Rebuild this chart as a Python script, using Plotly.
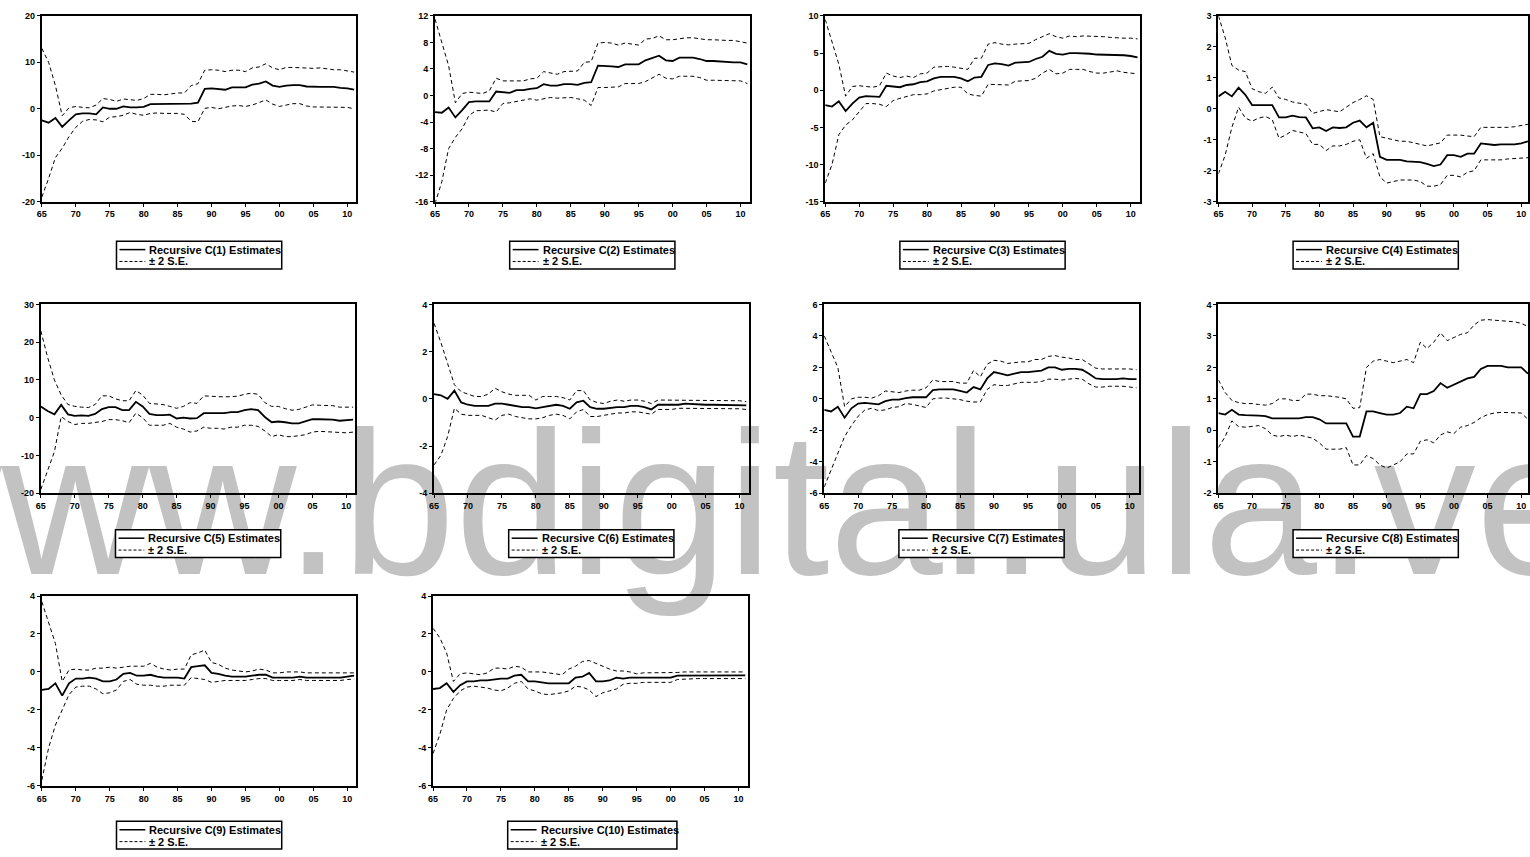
import plotly.graph_objects as go

W, H = 1530, 857

YEARS = list(range(1965, 2012))

C1_EST = [-2.5, -3.0, -2.0, -3.9, -2.5, -1.2, -1.0, -1.0, -1.2, 0.3,
          0.0, 0.0, 0.5, 0.3, 0.3, 0.4, 1.0, 1.0, 1.0, 1.1,
          1.1, 1.1, 1.1, 1.3, 4.3, 4.4, 4.3, 4.1, 4.6, 4.6,
          4.6, 5.2, 5.4, 5.9, 5.0, 4.7, 5.0, 5.1, 5.1, 4.8,
          4.7, 4.7, 4.7, 4.7, 4.5, 4.4, 4.1]
C1_UP = [13.0, 10.0, 5.0, -1.5, 0.2, 0.5, 0.3, 0.2, 0.8, 2.2,
         2.0, 1.6, 2.1, 2.0, 1.8, 2.2, 3.1, 3.1, 3.0, 3.2,
         3.4, 3.4, 5.0, 5.4, 8.3, 8.4, 8.3, 8.0, 8.3, 8.3,
         8.0, 8.8, 9.0, 9.7, 8.8, 8.4, 8.9, 8.9, 8.8, 8.7,
         8.7, 8.8, 8.6, 8.4, 8.4, 8.2, 7.9]
C1_LO = [-19.0, -15.0, -10.5, -8.5, -6.0, -4.0, -2.7, -2.3, -2.4, -2.8,
         -1.8, -1.7, -1.4, -0.8, -1.2, -1.4, -1.0, -0.9, -1.0, -1.0,
         -1.0, -1.2, -2.7, -2.8, 0.1, 0.3, 0.0, 0.3, 0.6, 0.7,
         0.5, 0.8, 1.4, 1.9, 1.0, 0.5, 0.8, 1.1, 1.1, 0.6,
         0.4, 0.4, 0.4, 0.4, 0.4, 0.3, 0.0]

C2_EST = [-2.5, -2.6, -1.8, -3.3, -2.2, -1.0, -0.9, -0.9, -0.9, 0.6,
          0.5, 0.4, 0.8, 0.8, 1.0, 1.1, 1.7, 1.5, 1.5, 1.7,
          1.7, 1.6, 1.9, 2.0, 4.5, 4.5, 4.4, 4.3, 4.7, 4.7,
          4.7, 5.3, 5.6, 6.0, 5.3, 5.2, 5.7, 5.7, 5.7, 5.5,
          5.2, 5.2, 5.1, 5.1, 5.0, 5.0, 4.7]
C2_UP = [11.5, 8.0, 4.5, -1.1, 0.3, 0.5, 0.4, 0.3, 0.7, 2.6,
         2.2, 2.2, 2.3, 2.2, 2.5, 2.6, 3.6, 3.4, 3.2, 3.6,
         3.6, 3.7, 5.0, 5.1, 7.9, 8.0, 7.9, 7.6, 7.9, 7.8,
         7.6, 8.5, 8.6, 9.0, 8.4, 8.4, 8.6, 8.7, 8.7, 8.5,
         8.4, 8.4, 8.3, 8.3, 8.3, 8.1, 7.9]
C2_LO = [-16.3, -13.0, -8.0, -6.3, -5.0, -3.0, -2.3, -2.2, -2.2, -2.5,
         -1.2, -1.1, -0.9, -0.6, -0.5, -0.7, -0.5, -0.3, -0.4, -0.4,
         -0.3, -0.5, -0.7, -1.5, 1.2, 1.2, 1.2, 1.3, 1.8, 1.8,
         1.8, 2.1, 2.7, 3.2, 2.6, 2.5, 2.9, 2.9, 2.9, 2.7,
         2.3, 2.3, 2.3, 2.3, 2.3, 2.2, 1.8]

C3_EST = [-2.0, -2.2, -1.5, -2.8, -1.8, -1.0, -0.8, -0.8, -0.9, 0.6,
          0.5, 0.4, 0.7, 0.8, 1.1, 1.2, 1.6, 1.8, 1.8, 1.8,
          1.6, 1.2, 1.7, 1.8, 3.4, 3.6, 3.5, 3.3, 3.7, 3.8,
          3.8, 4.2, 4.5, 5.3, 4.9, 4.8, 5.0, 5.0, 5.0, 4.9,
          4.8, 4.8, 4.8, 4.7, 4.7, 4.6, 4.4]
C3_UP = [9.5, 6.5, 3.5, -0.8, 0.5, 0.6, 0.5, 0.4, 0.6, 2.3,
         1.9, 1.7, 1.9, 1.7, 2.2, 2.3, 3.1, 3.2, 3.2, 3.1,
         2.9, 2.8, 4.3, 4.3, 6.2, 6.4, 6.2, 6.1, 6.2, 6.3,
         6.3, 6.8, 7.2, 7.6, 7.2, 7.0, 7.3, 7.2, 7.3, 7.3,
         7.2, 7.2, 7.1, 7.0, 7.0, 7.0, 6.9]
C3_LO = [-12.5, -10.0, -6.0, -4.7, -4.0, -2.9, -1.8, -1.8, -1.9, -2.2,
         -1.4, -1.1, -0.8, -0.6, -0.6, -0.5, -0.1, 0.1, 0.2, 0.4,
         0.4, -0.5, -0.7, -0.8, 0.8, 0.8, 0.8, 0.7, 1.2, 1.3,
         1.3, 1.6, 2.3, 2.8, 2.2, 2.3, 2.8, 2.8, 2.8, 2.5,
         2.3, 2.3, 2.5, 2.6, 2.4, 2.3, 2.2]

C4_EST = [0.4, 0.55, 0.4, 0.68, 0.45, 0.12, 0.12, 0.12, 0.12, -0.28,
          -0.28, -0.22, -0.27, -0.28, -0.63, -0.6, -0.72, -0.6, -0.62, -0.6,
          -0.45, -0.38, -0.6, -0.45, -1.55, -1.65, -1.65, -1.65, -1.7, -1.7,
          -1.72, -1.78, -1.85, -1.8, -1.5, -1.5, -1.55, -1.45, -1.45, -1.12,
          -1.15, -1.17, -1.15, -1.15, -1.15, -1.12, -1.05]
C4_UP = [3.0, 2.3, 1.4, 1.25, 1.2, 0.65, 0.55, 0.5, 0.7, 0.35,
         0.3, 0.22, 0.18, 0.15, -0.15, -0.1, -0.03, -0.06, -0.1, 0.05,
         0.2, 0.3, 0.42, 0.3, -0.9, -0.95, -1.0, -1.05, -1.05, -1.1,
         -1.15, -1.2, -1.15, -1.1, -0.85, -0.85, -0.85, -0.88, -0.9, -0.6,
         -0.6, -0.62, -0.6, -0.6, -0.58, -0.55, -0.5]
C4_LO = [-2.1, -1.5, -0.6, 0.05, -0.3, -0.4, -0.3, -0.25, -0.35, -0.95,
         -0.85, -0.7, -0.75, -0.8, -1.15, -1.15, -1.35, -1.2, -1.2, -1.15,
         -1.05, -1.0, -1.6, -1.45, -2.2, -2.4, -2.35, -2.3, -2.3, -2.3,
         -2.35, -2.5, -2.5, -2.45, -2.15, -2.15, -2.2, -2.05, -2.0, -1.65,
         -1.65, -1.65, -1.65, -1.62, -1.6, -1.6, -1.58]

C5_EST = [3.0, 1.8, 0.9, 3.4, 0.9, 0.5, 0.6, 0.5, 1.0, 2.3,
          2.8, 2.8, 2.0, 2.0, 4.2, 3.0, 1.0, 0.7, 0.7, 0.8,
          -0.2, 0.0, -0.2, -0.1, 1.2, 1.2, 1.3, 1.2, 1.5, 1.5,
          2.0, 2.3, 2.0, 0.2, -1.2, -1.0, -1.2, -1.5, -1.5, -1.0,
          -0.4, -0.4, -0.4, -0.5, -0.8, -0.6, -0.5]
C5_UP = [23.0, 16.0, 10.0, 6.0, 3.5, 3.0, 2.8, 2.7, 3.5, 5.8,
         5.8, 5.0, 4.5, 4.5, 7.2, 6.0, 3.8, 3.6, 3.5, 3.0,
         2.5, 3.0, 4.0, 3.8, 5.8, 5.7, 5.6, 5.5, 5.6, 5.7,
         6.2, 6.5, 6.2, 4.0, 3.0, 3.0, 2.4, 2.0, 2.2, 2.8,
         3.4, 3.3, 3.3, 3.2, 2.8, 2.8, 2.8]
C5_LO = [-19.0, -14.0, -9.0, 0.3, -1.0, -1.8, -1.5, -1.5, -1.3, -1.0,
         -0.5, -0.5, -0.8, -1.3, 1.2, 0.0, -2.0, -2.0, -2.0, -1.5,
         -2.5, -3.0, -3.8, -3.5, -2.5, -2.8, -2.8, -3.0, -2.5, -2.5,
         -2.0, -2.0, -2.3, -3.5, -5.0, -4.5, -5.0, -5.0, -4.8, -4.5,
         -3.8, -3.6, -3.7, -3.8, -3.8, -4.0, -3.8]

C6_EST = [0.2, 0.15, 0.0, 0.35, -0.15, -0.25, -0.3, -0.3, -0.3, -0.2,
          -0.2, -0.25, -0.3, -0.35, -0.35, -0.4, -0.35, -0.3, -0.25, -0.3,
          -0.42, -0.15, -0.08, -0.35, -0.42, -0.42, -0.38, -0.35, -0.35, -0.3,
          -0.3, -0.35, -0.45, -0.25, -0.25, -0.25, -0.25, -0.2, -0.22, -0.25,
          -0.25, -0.25, -0.25, -0.25, -0.25, -0.25, -0.28]
C6_UP = [3.2, 2.4, 1.5, 0.6, 0.3, 0.2, 0.1, 0.1, 0.2, 0.45,
         0.3, 0.2, 0.15, 0.15, 0.15, -0.05, 0.1, 0.1, 0.1, 0.05,
         -0.05, 0.35, 0.35, -0.05, -0.15, -0.2, -0.1, -0.05, -0.1, -0.05,
         -0.05, -0.1, -0.2, -0.05, -0.05, -0.05, -0.05, -0.05, -0.05, -0.05,
         -0.05, -0.05, -0.05, -0.05, -0.05, -0.08, -0.12]
C6_LO = [-2.8, -2.4, -1.6, -0.4, -0.65, -0.7, -0.7, -0.7, -0.8, -0.9,
         -0.7, -0.65, -0.75, -0.8, -0.85, -0.85, -0.8, -0.7, -0.65, -0.7,
         -0.85, -0.55, -0.45, -0.75, -0.75, -0.7, -0.65, -0.6, -0.6, -0.55,
         -0.55, -0.6, -0.65, -0.45, -0.45, -0.45, -0.4, -0.4, -0.4, -0.4,
         -0.4, -0.4, -0.4, -0.4, -0.4, -0.42, -0.45]

C7_EST = [-0.7, -0.8, -0.5, -1.2, -0.6, -0.3, -0.25, -0.3, -0.35, -0.15,
          -0.05, -0.05, 0.05, 0.1, 0.1, 0.1, 0.55, 0.6, 0.6, 0.6,
          0.5, 0.4, 0.75, 0.6, 1.3, 1.7, 1.6, 1.5, 1.6, 1.7,
          1.7, 1.75, 1.8, 2.0, 2.0, 1.85, 1.9, 1.9, 1.85, 1.6,
          1.3, 1.25, 1.25, 1.25, 1.3, 1.25, 1.25]
C7_UP = [4.0, 3.0, 2.0, -0.5, 0.0, 0.1, 0.1, 0.05, 0.2, 0.5,
         0.45, 0.4, 0.5, 0.55, 0.55, 0.7, 1.2, 1.1, 1.1, 1.1,
         1.0, 1.0, 1.8, 1.4, 2.2, 2.45, 2.4, 2.25, 2.3, 2.35,
         2.35, 2.5, 2.5, 2.7, 2.75, 2.65, 2.6, 2.5, 2.5, 2.2,
         1.95, 1.9, 1.9, 1.9, 1.9, 1.9, 1.85]
C7_LO = [-5.6, -4.5, -3.5, -2.4, -1.7, -1.1, -0.7, -0.6, -0.75, -0.7,
         -0.55, -0.5, -0.3, -0.35, -0.45, -0.55, 0.0, 0.05, 0.05, 0.0,
         -0.05, -0.15, -0.2, -0.2, 0.6, 0.9, 0.85, 0.85, 0.95, 1.05,
         1.05, 1.05, 1.1, 1.25, 1.25, 1.2, 1.25, 1.3, 1.25, 0.95,
         0.75, 0.75, 0.8, 0.8, 0.8, 0.75, 0.7]

C8_EST = [0.55, 0.5, 0.65, 0.5, 0.48, 0.48, 0.47, 0.45, 0.38, 0.38,
          0.38, 0.38, 0.38, 0.42, 0.42, 0.35, 0.22, 0.22, 0.22, 0.22,
          -0.2, -0.2, 0.6, 0.6, 0.55, 0.5, 0.5, 0.55, 0.75, 0.7,
          1.15, 1.15, 1.25, 1.5, 1.35, 1.45, 1.55, 1.65, 1.7, 1.95,
          2.05, 2.05, 2.05, 2.0, 2.0, 2.0, 1.8]
C8_UP = [1.6, 1.2, 0.95, 0.88, 0.85, 0.85, 0.82, 0.8, 0.85, 1.0,
         1.0, 0.95, 0.95, 1.15, 1.15, 1.1, 1.1, 1.08, 1.05, 1.0,
         0.7, 0.72, 2.0, 2.2, 2.25, 2.2, 2.15, 2.2, 2.25, 2.15,
         2.8, 2.6, 2.8, 3.1, 2.85, 2.95, 3.05, 3.1, 3.35, 3.5,
         3.52, 3.5, 3.48, 3.45, 3.45, 3.4, 3.3]
C8_LO = [-0.55, -0.2, 0.3, 0.12, 0.1, 0.12, 0.15, 0.05, -0.15, -0.2,
         -0.15, -0.2, -0.15, -0.2, -0.25, -0.4, -0.6, -0.6, -0.6, -0.55,
         -1.1, -1.1, -0.8, -0.9, -1.1, -1.2, -1.1, -1.0, -0.75, -0.75,
         -0.35, -0.3, -0.4, -0.15, -0.05, -0.1, 0.1, 0.15, 0.25, 0.4,
         0.5, 0.55, 0.57, 0.57, 0.57, 0.55, 0.35]

C9_EST = [-0.95, -0.9, -0.6, -1.25, -0.6, -0.35, -0.35, -0.3, -0.35, -0.5,
          -0.5, -0.4, -0.1, -0.05, -0.2, -0.2, -0.15, -0.25, -0.3, -0.3,
          -0.3, -0.35, 0.25, 0.3, 0.35, -0.05, -0.1, -0.2, -0.25, -0.25,
          -0.25, -0.2, -0.15, -0.15, -0.3, -0.3, -0.3, -0.3, -0.25, -0.3,
          -0.3, -0.3, -0.3, -0.3, -0.3, -0.25, -0.2]
C9_UP = [3.7, 2.6, 1.5, -0.5, 0.1, 0.15, 0.1, 0.1, 0.2, 0.2,
         0.25, 0.2, 0.25, 0.3, 0.3, 0.3, 0.45, 0.25, 0.15, 0.1,
         0.15, 0.15, 0.9, 1.0, 1.15, 0.5, 0.4, 0.2, 0.1, 0.05,
         0.0, 0.05, 0.15, 0.1, -0.05, -0.05, 0.0, 0.0, 0.0, -0.05,
         -0.05, -0.05, -0.05, -0.05, -0.05, -0.05, -0.05]
C9_LO = [-5.7, -4.0, -2.8, -2.0, -1.2, -0.8, -0.75, -0.75, -0.9, -1.15,
         -1.1, -0.95, -0.5, -0.4, -0.65, -0.7, -0.7, -0.75, -0.75, -0.7,
         -0.7, -0.7, -0.3, -0.35, -0.4, -0.55, -0.5, -0.45, -0.45, -0.45,
         -0.45, -0.4, -0.35, -0.35, -0.45, -0.45, -0.45, -0.45, -0.4, -0.45,
         -0.45, -0.45, -0.45, -0.45, -0.45, -0.4, -0.38]

C10_EST = [-0.9, -0.85, -0.6, -1.05, -0.7, -0.5, -0.5, -0.45, -0.45, -0.4,
           -0.35, -0.35, -0.2, -0.15, -0.5, -0.5, -0.55, -0.6, -0.6, -0.6,
           -0.6, -0.3, -0.25, -0.05, -0.5, -0.5, -0.45, -0.3, -0.35, -0.3,
           -0.3, -0.3, -0.3, -0.3, -0.3, -0.3, -0.2, -0.2, -0.2, -0.2,
           -0.2, -0.18, -0.18, -0.18, -0.18, -0.18, -0.18]
C10_UP = [2.3, 1.8, 1.0, -0.5, -0.1, -0.05, -0.1, -0.15, -0.05, 0.2,
          0.2, 0.15, 0.3, 0.25, 0.0, 0.0, 0.0, -0.05, -0.1, -0.15,
          0.15, 0.3, 0.55, 0.6, 0.45, 0.3, 0.15, 0.05, 0.05, 0.0,
          -0.1, -0.05, -0.05, -0.05, -0.05, -0.05, -0.03, 0.0, 0.0, 0.0,
          0.0, 0.0, 0.0, 0.0, 0.0, 0.0, 0.0]
C10_LO = [-4.3, -3.3, -2.0, -1.4, -1.0, -0.8, -0.75, -0.8, -0.85, -0.95,
          -1.0, -0.85, -0.6, -0.5, -0.9, -1.0, -1.15, -1.2, -1.15, -1.1,
          -1.0, -0.75, -0.8, -0.95, -1.3, -1.1, -1.0, -0.9, -0.65, -0.6,
          -0.6, -0.55, -0.55, -0.55, -0.55, -0.55, -0.4, -0.38, -0.35, -0.35,
          -0.35, -0.35, -0.35, -0.35, -0.35, -0.35, -0.35]

SERIES = [
    (C1_EST, C1_UP, C1_LO), (C2_EST, C2_UP, C2_LO), (C3_EST, C3_UP, C3_LO),
    (C4_EST, C4_UP, C4_LO), (C5_EST, C5_UP, C5_LO), (C6_EST, C6_UP, C6_LO),
    (C7_EST, C7_UP, C7_LO), (C8_EST, C8_UP, C8_LO), (C9_EST, C9_UP, C9_LO),
    (C10_EST, C10_UP, C10_LO),
]

Y_TICKS = [
    [-20, -10, 0, 10, 20],
    [-16, -12, -8, -4, 0, 4, 8, 12],
    [-15, -10, -5, 0, 5, 10],
    [-3, -2, -1, 0, 1, 2, 3],
    [-20, -10, 0, 10, 20, 30],
    [-4, -2, 0, 2, 4],
    [-6, -4, -2, 0, 2, 4, 6],
    [-2, -1, 0, 1, 2, 3, 4],
    [-6, -4, -2, 0, 2, 4],
    [-6, -4, -2, 0, 2, 4],
]

X_TICK_VALS = [1965, 1970, 1975, 1980, 1985, 1990, 1995, 2000, 2005, 2010]
X_TICK_TEXT = ["65", "70", "75", "80", "85", "90", "95", "00", "05", "10"]

LEGEND_EST = ["Recursive C(%d) Estimates" % (i + 1) for i in range(10)]
LEGEND_SE = "\u00b1 2 S.E."

# ---- layout geometry (pixels) ----
PANEL_LEFT = [37, 432, 824, 1219, 36, 431, 823, 1219, 37, 430]
PANEL_TOP = [11, 11, 11, 11, 303, 303, 303, 303, 598, 598]
PANEL_BOTTOM = [199, 199, 199, 199, 494, 494, 494, 494, 790, 790]
PANEL_W = 316
PX_PER_YEAR = [6.82, 6.82, 6.82, 6.76, 6.82, 6.82, 6.82, 6.76, 6.82, 6.82]

FONT = "Liberation Sans Narrow, Arial Narrow, Liberation Sans, Arial, sans-serif"


def px(x):
    return x / W


def py(y):
    return 1 - y / H


fig = go.Figure()
layout = dict(
    width=W, height=H, autosize=False,
    margin=dict(l=0, r=0, t=0, b=0),
    paper_bgcolor="white", plot_bgcolor="white",
    showlegend=False,
)
shapes = []
annotations = []

for i, (est, up, lo) in enumerate(SERIES):
    n = i + 1
    xa = "x" if n == 1 else "x%d" % n
    ya = "y" if n == 1 else "y%d" % n
    L = PANEL_LEFT[i]
    R = min(L + PANEL_W, W)
    T = PANEL_TOP[i]
    B = PANEL_BOTTOM[i]
    x_hi = 1965 + (R - L) / PX_PER_YEAR[i]

    fig.add_trace(go.Scatter(x=YEARS, y=up, xaxis=xa, yaxis=ya, mode="lines",
                             line=dict(color="black", width=1, dash="4px,3px"),
                             hoverinfo="skip"))
    fig.add_trace(go.Scatter(x=YEARS, y=lo, xaxis=xa, yaxis=ya, mode="lines",
                             line=dict(color="black", width=1, dash="4px,3px"),
                             hoverinfo="skip"))
    fig.add_trace(go.Scatter(x=YEARS, y=est, xaxis=xa, yaxis=ya, mode="lines",
                             line=dict(color="black", width=1.8),
                             hoverinfo="skip"))

    yt = Y_TICKS[i]
    axis_common = dict(showline=True, mirror=True, linecolor="black", linewidth=2,
                       ticks="outside", ticklen=3, tickwidth=1, tickcolor="black",
                       showgrid=False, zeroline=False,
                       tickfont=dict(family=FONT, size=9, color="black", weight="bold"),
                       fixedrange=True)
    layout["xaxis" if n == 1 else "xaxis%d" % n] = dict(
        domain=[px(L), px(R)], anchor=ya, range=[1965, x_hi],
        tickvals=X_TICK_VALS, ticktext=X_TICK_TEXT, **axis_common)
    layout["yaxis" if n == 1 else "yaxis%d" % n] = dict(
        domain=[py(B), py(T)], anchor=xa, range=[yt[0], yt[-1]],
        tickvals=yt, ticktext=[str(v) for v in yt], **axis_common)

    # legend box drawn under each panel
    bx0 = L + 75
    bx1 = bx0 + (170 if n == 10 else 166)
    by0 = T + 228
    by1 = T + 256
    shapes.append(dict(type="rect", xref="paper", yref="paper", layer="above",
                       x0=px(bx0), x1=px(bx1), y0=py(by1), y1=py(by0),
                       line=dict(color="black", width=1.5), fillcolor="white"))
    r1 = T + 236.5
    r2 = T + 248.5
    shapes.append(dict(type="line", xref="paper", yref="paper", layer="above",
                       x0=px(bx0 + 3), x1=px(bx0 + 29), y0=py(r1), y1=py(r1),
                       line=dict(color="black", width=1.5)))
    shapes.append(dict(type="line", xref="paper", yref="paper", layer="above",
                       x0=px(bx0 + 3), x1=px(bx0 + 29), y0=py(r2), y1=py(r2),
                       line=dict(color="black", width=1, dash="3px,2px")))
    annotations.append(dict(xref="paper", yref="paper", x=px(bx0 + 31), y=py(r1),
                            xanchor="left", yanchor="middle", showarrow=False,
                            text=LEGEND_EST[i],
                            font=dict(family=FONT, size=11, color="black", weight="bold")))
    annotations.append(dict(xref="paper", yref="paper", x=px(bx0 + 31), y=py(r2),
                            xanchor="left", yanchor="middle", showarrow=False,
                            text=LEGEND_SE,
                            font=dict(family=FONT, size=11, color="black", weight="bold")))

# watermark behind the plots' contents
shapes.append(dict(type="rect", xref="paper", yref="paper", layer="below",
                   x0=0, x1=1440 / W, y0=0.383, y1=0.4858,
                   line=dict(width=0), fillcolor="rgba(0,0,0,0)",
                   label=dict(text="www.bdigital.ula.ve", textposition="middle center",
                              font=dict(family=FONT, size=204, color="#c2c2c2"))))

layout["shapes"] = shapes
layout["annotations"] = annotations
fig.update_layout(**layout)

fig.write_html("out.html", config={"displayModeBar": False},
               post_script="document.body.style.margin='0';document.body.style.overflow='hidden';")
